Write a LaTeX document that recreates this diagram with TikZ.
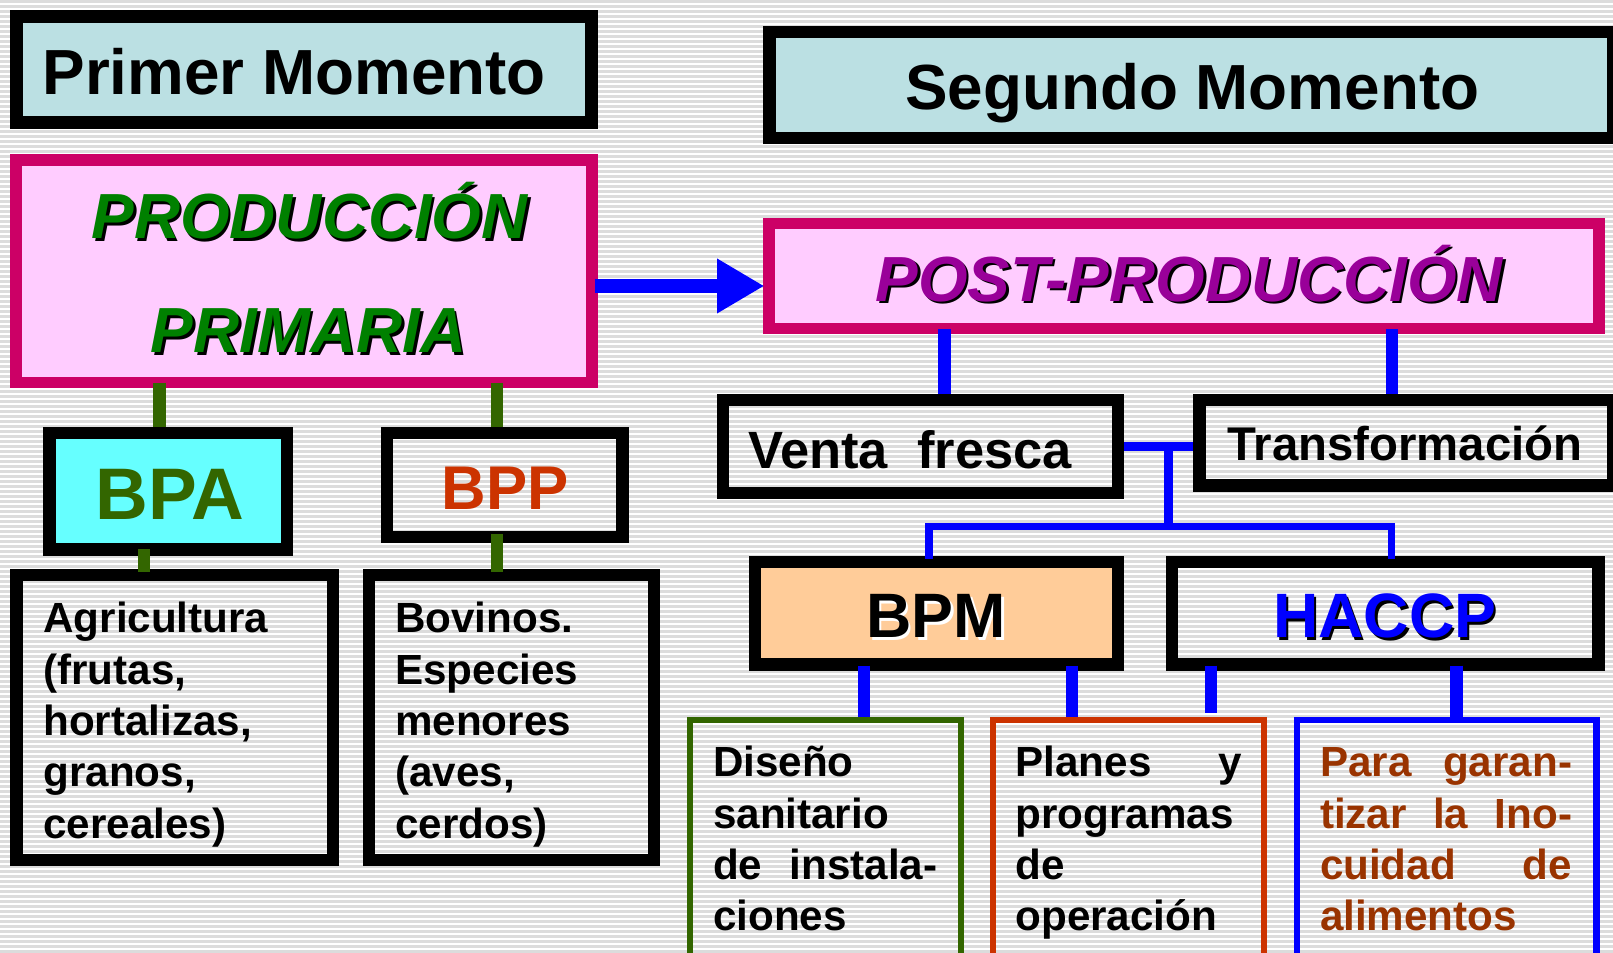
\documentclass[tikz,border=0pt]{standalone}
\usepackage{fontspec}
\setmainfont{Liberation Sans}
\usetikzlibrary{arrows.meta,calc}
\definecolor{hdrfill}{HTML}{BBE0E3}
\definecolor{pinkfill}{HTML}{FFCCFF}
\definecolor{magborder}{HTML}{CC0066}
\definecolor{prodgreen}{HTML}{008000}
\definecolor{postpurple}{HTML}{990099}
\definecolor{dkgreen}{HTML}{336600}
\definecolor{cyanfill}{HTML}{66FFFF}
\definecolor{bppred}{HTML}{CC3300}
\definecolor{bpmfill}{HTML}{FFCC99}
\definecolor{purblue}{HTML}{0000FF}
\definecolor{brownt}{HTML}{993300}
\definecolor{stripe}{HTML}{DCDCDC}
\tikzset{
  box/.style={draw=black, line width=12pt, inner sep=0pt},
  thinbox/.style={line width=6pt, inner sep=0pt},
  txt/.style={inner sep=0pt, font=\bfseries},
  gconn/.style={draw=dkgreen, line width=12pt},
  bconn/.style={draw=purblue, line width=12pt},
  bthin/.style={draw=purblue, line width=9pt},
  bthinner/.style={draw=purblue, line width=7pt},
  para/.style={inner sep=0pt, anchor=base west, align=left, font=\bfseries\fontsize{41}{50}\selectfont},
}
% place a box by outer corners: #1 name, #2 style, x1,y1,x2,y2, line width #7
\newcommand{\obox}[7]{%
  \node[#2, line width=#7pt, minimum width={#5-#3-#7}, minimum height={#6-#4-#7}]
    (#1) at ({(#3+#5)/2},{(#4+#6)/2}) {};}
\begin{document}
\begin{tikzpicture}[x=1pt,y=-1pt]
\useasboundingbox (0,0) rectangle (1568,925.5);
% background stripes
\fill[white] (0,0) rectangle (1568,925.5);
\foreach \k in {0,...,190} {
  \draw[stripe, line width=2.4pt] (0,{1.5+\k*4.86}) -- (1568,{1.5+\k*4.86});
}
% header boxes
\obox{primer}{box, fill=hdrfill}{10}{10}{581}{125}{12}
\obox{segundo}{box, fill=hdrfill}{742}{25}{1574}{140}{12}
\node[txt, anchor=base, font=\bfseries\fontsize{62}{70}\selectfont] (primertxt) at (286,92) {Primer Momento};
\node[txt, anchor=base, font=\bfseries\fontsize{62}{70}\selectfont] (segundotxt) at (1159,106) {Segundo Momento};
% production boxes
\obox{prod}{draw=magborder, fill=pinkfill, inner sep=0pt}{10}{150}{581}{377}{11}
\obox{post}{draw=magborder, fill=pinkfill, inner sep=0pt}{742}{212}{1560}{325}{11}
\foreach \dx/\col in {2.5/black,0/prodgreen} {
  \node[txt, anchor=base, text=\col, font=\bfseries\itshape\fontsize{62}{70}\selectfont] at ({301+\dx},{232+\dx}) {PRODUCCIÓN};
  \node[txt, anchor=base, text=\col, font=\bfseries\itshape\fontsize{62}{70}\selectfont] at ({300+\dx},{343+\dx}) {PRIMARIA};
}
\foreach \dx/\col in {2.5/black,0/postpurple} {
  \node[txt, anchor=base, text=\col, font=\bfseries\itshape\fontsize{62}{70}\selectfont] at ({1156+\dx},{293+\dx}) {POST-PRODUCCIÓN};
}
% arrow
\coordinate (ay) at (0,278);
\draw[draw=purblue, line width=14pt, -{Triangle[length=46pt,width=50pt]}] ($(prod.east |- ay)+(-3,0)$) -- ($(post.west |- ay)+(1,0)$);
% left side
\obox{bpa}{box, fill=cyanfill}{42}{415}{285}{540}{12}
\obox{bpp}{box}{370}{415}{611}{528}{12}
\node[txt, anchor=base, text=dkgreen, font=\bfseries\fontsize{71}{80}\selectfont] (bpatxt) at (165,505) {BPA};
\node[txt, anchor=base, text=bppred, font=\bfseries\fontsize{60}{70}\selectfont] (bpptxt) at (491,495) {BPP};
\obox{agri}{box}{10}{553}{330}{842}{12}
\obox{bov}{box}{353}{553}{642}{842}{12}
\node[para, text width=270pt] (agritxt) at (42,615) {Agricultura\\(frutas,\\hortalizas,\\granos,\\cereales)};
\node[para, text width=240pt] (bovtxt) at (384,615) {Bovinos.\\Especies\\menores\\(aves,\\cerdos)};
% green connectors
\coordinate (gA) at (155,0);
\coordinate (gB) at (483,0);
\coordinate (gC) at (140,0);
\draw[gconn] (prod.south -| gA) ++(0,-5) -- (bpa.north -| gA);
\draw[gconn] (prod.south -| gB) ++(0,-5) -- (bpp.north -| gB);
\draw[gconn] (bpa.south -| gC) ++(0,-6) -- ($(agri.north -| gC)+(0,3)$);
\draw[gconn] (bpp.south -| gB) ++(0,-9) -- ($(bov.north -| gB)+(0,3)$);
% right side
\obox{venta}{box}{697}{383}{1093}{485}{12}
\obox{transf}{box}{1160}{383}{1574}{478}{12}
\node[txt, anchor=base west, font=\bfseries\fontsize{51}{60}\selectfont] (ventatxt) at (727,455) {Venta\ \ fresca};
\node[txt, anchor=base west, font=\bfseries\fontsize{46}{56}\selectfont] (transftxt) at (1193,448) {Transformación};
\coordinate (pV) at (918,0);
\coordinate (pT) at (1353,0);
\draw[bconn] (post.south -| pV) ++(0,-5) -- (venta.north -| pV);
\draw[bconn] (post.south -| pT) ++(0,-5) -- (transf.north -| pT);
\coordinate (jy) at (0,434);
\coordinate (jx) at (1136,0);
\coordinate (hy) at (0,512);
\coordinate (lB) at (903,0);
\draw[bthin] (venta.east |- jy) -- (transf.west |- jy);
\draw[bthin] (jx |- jy) -- (jx |- hy);
\obox{bpm}{box, fill=bpmfill}{728}{540}{1093}{652}{12}
\obox{haccp}{box}{1133}{540}{1560}{652}{12}
\draw[bthinner] (lB |- bpm.north) ++(0,3) -- (lB |- hy) -- (pT |- hy) -- ($(haccp.north -| pT)+(0,3)$);
\foreach \dx/\col in {2.5/white,0/black} {
  \node[txt, anchor=base, text=\col, font=\bfseries\fontsize{61}{70}\selectfont] at ({910+\dx},{620+\dx}) {BPM};
}
\foreach \dx/\col in {2.5/black,0/purblue} {
  \node[txt, anchor=base, text=\col, font=\bfseries\fontsize{61}{70}\selectfont] at ({1346+\dx},{620+\dx}) {HACCP};
}
% bottom boxes
\obox{dis}{thinbox, draw=dkgreen}{668}{697}{937}{940}{6}
\obox{plan}{thinbox, draw=bppred}{962}{697}{1232}{940}{6}
\obox{garan}{thinbox, draw=purblue}{1258}{697}{1555}{940}{6}
\node[para, text width=218pt] (distxt) at (693,755) {Diseño\\sanitario\\de\hfill instala-\\ciones};
\node[para, text width=220pt] (plantxt) at (987,755) {Planes\hfill y\\programas\\de\\operación};
\node[para, text width=245pt, text=brownt] (garantxt) at (1283,755) {Para\hfill garan-\\tizar\hfill la\hfill Ino-\\cuidad\hfill de\\alimentos};
\coordinate (c1) at (840,0);
\coordinate (c2) at (1042,0);
\coordinate (c3) at (1177,0);
\coordinate (c4) at (1416,0);
\draw[bconn] (bpm.south -| c1) ++(0,-5) -- (dis.north -| c1);
\draw[bconn] (bpm.south -| c2) ++(0,-5) -- (plan.north -| c2);
\draw[bconn] (haccp.south -| c3) ++(0,-5) -- ($(plan.north -| c3)+(0,-4)$);
\draw[bconn] (haccp.south -| c4) ++(0,-5) -- (garan.north -| c4);
\end{tikzpicture}
\end{document}
